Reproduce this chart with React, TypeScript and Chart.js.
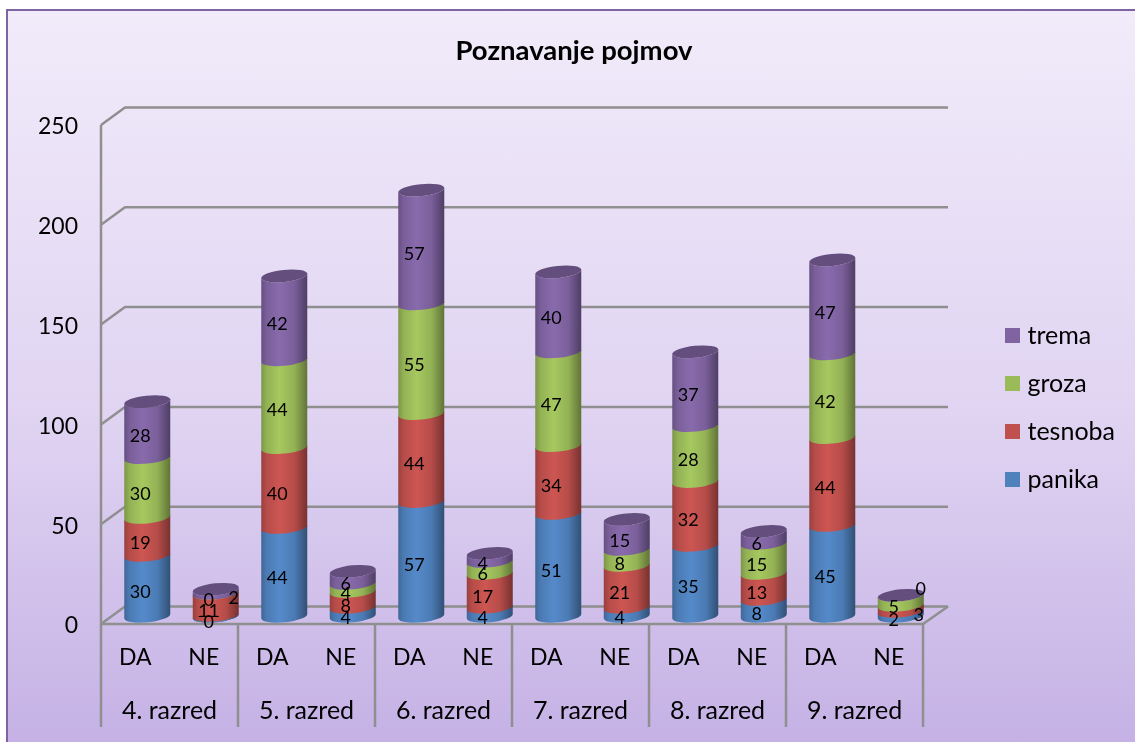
import React, { useEffect, useRef } from "react";
import { Chart, BarController, BarElement, registerables } from "chart.js";

const grades = ["4. razred", "5. razred", "6. razred", "7. razred", "8. razred", "9. razred"];
const answers = ["DA", "NE", "DA", "NE", "DA", "NE", "DA", "NE", "DA", "NE", "DA", "NE"];
const panika = [30, 0, 44, 4, 57, 4, 51, 4, 35, 8, 45, 2];
const tesnoba = [19, 11, 40, 8, 44, 17, 34, 21, 32, 13, 44, 3];
const groza = [30, 0, 44, 4, 55, 6, 47, 8, 28, 15, 42, 5];
const trema = [28, 2, 42, 6, 57, 4, 40, 15, 37, 6, 47, 0];

const BLUE = "#4F81BD";
const RED = "#C0504D";
const GREEN = "#9BBB59";
const PURPLE = "#8064A2";
const GRID = "#8F8F8F";
const FONT = "Lato";

// depth of the 3D box, in pixels
const DEPTH_X = 24;
const DEPTH_Y = 17.5;
const ELLIPSE_RY = 6;
const TILT = -0.1;

// hand-placed data labels, as in the reference: [dataset, index, dx, dy]
const labelNudges: [number, number, number, number][] = [
  [3, 1, 25, 0],
  [1, 11, 25, 0],
  [3, 11, 27, -13],
];
// labels that carry a short rule beneath them in the reference: [dataset, index]
const underlinedLabels: [number, number][] = [[1, 1]];

function shade(hex: string, f: number) {
  const n = parseInt(hex.slice(1), 16);
  const c = [(n >> 16) & 255, (n >> 8) & 255, n & 255].map((v) =>
    Math.min(255, Math.round(v * f))
  );
  return `rgb(${c[0]},${c[1]},${c[2]})`;
}

class CylinderElement extends BarElement {
  static id = "cylinderElement";
  static defaults = { ...(BarElement as any).defaults, bodyColor: "#000000", hasCap: false };
  draw(ctx: CanvasRenderingContext2D) {
    const { x, y, base, width } = (this as any).getProps(["x", "y", "base", "width"], true);
    const o: any = (this as any).options;
    const color: string = o.bodyColor;
    const cx = x + DEPTH_X / 2;
    const half = width / 2;
    const rx = half / Math.cos(TILT);
    const yTop = y - DEPTH_Y / 2;
    const yBase = base - DEPTH_Y / 2;
    ctx.save();
    const g = ctx.createLinearGradient(cx - half, 0, cx + half, 0);
    g.addColorStop(0, shade(color, 0.8));
    g.addColorStop(0.12, shade(color, 0.95));
    g.addColorStop(0.4, shade(color, 1.07));
    g.addColorStop(0.72, shade(color, 0.95));
    g.addColorStop(1, shade(color, 0.62));
    ctx.fillStyle = g;
    ctx.beginPath();
    ctx.ellipse(cx, yTop, rx, ELLIPSE_RY, TILT, Math.PI, 0, true);
    ctx.ellipse(cx, yBase + 1, rx, ELLIPSE_RY, TILT, 0, Math.PI, false);
    ctx.closePath();
    ctx.fill();
    if (o.hasCap) {
      ctx.fillStyle = shade(color, 0.78);
      ctx.beginPath();
      ctx.ellipse(cx, yTop, rx, ELLIPSE_RY, TILT, 0, Math.PI * 2);
      ctx.fill();
    }
    ctx.restore();
  }
}

class CylinderController extends BarController {
  static id = "cylinder";
  static defaults = { ...(BarController as any).defaults, dataElementType: "cylinderElement" };
}

Chart.register(...registerables, CylinderElement as any, CylinderController as any);

const box3d = {
  id: "box3d",
  beforeDatasetsDraw(chart: any) {
    const { ctx, chartArea: a, scales } = chart;
    ctx.save();
    ctx.strokeStyle = GRID;
    ctx.lineWidth = 2.5;
    ctx.lineJoin = "round";
    for (const t of scales.y.ticks) {
      const py = scales.y.getPixelForValue(t.value);
      ctx.beginPath();
      ctx.moveTo(a.left, py);
      ctx.lineTo(a.left + DEPTH_X, py - DEPTH_Y);
      ctx.lineTo(a.right + DEPTH_X + 1, py - DEPTH_Y);
      ctx.stroke();
    }
    ctx.beginPath();
    ctx.moveTo(a.left, a.top);
    ctx.lineTo(a.left, a.bottom);
    ctx.lineTo(a.right, a.bottom);
    ctx.lineTo(a.right + DEPTH_X + 1, a.bottom - DEPTH_Y);
    ctx.stroke();
    const bottom = scales.x2.bottom;
    grades.forEach((_, i) => {
      const left = scales.x2.getPixelForValue(i) - scales.x2.getPixelForValue(0) + a.left;
      ctx.beginPath();
      ctx.moveTo(left, a.bottom);
      ctx.lineTo(left, bottom);
      ctx.stroke();
    });
    ctx.beginPath();
    ctx.moveTo(a.right, a.bottom);
    ctx.lineTo(a.right, bottom);
    ctx.stroke();
    ctx.restore();
  },
};

const barValueLabels = {
  id: "barValueLabels",
  afterDatasetsDraw(chart: any) {
    const { ctx } = chart;
    ctx.save();
    ctx.fillStyle = "#000";
    ctx.strokeStyle = "#000";
    ctx.lineWidth = 1;
    ctx.font = `18px ${FONT}`;
    ctx.textAlign = "center";
    ctx.textBaseline = "middle";
    chart.data.datasets.forEach((ds: any, di: number) => {
      chart.getDatasetMeta(di).data.forEach((el: any, i: number) => {
        const n = labelNudges.find((k) => k[0] === di && k[1] === i);
        const px = el.x + 5 + (n ? n[2] : 0);
        const py = (el.y + el.base) / 2 - 2 + (n ? n[3] : 0);
        ctx.fillText(String(ds.data[i]), px, py);
        if (underlinedLabels.some((k) => k[0] === di && k[1] === i)) {
          ctx.beginPath();
          ctx.moveTo(px - 10, py + 5.5);
          ctx.lineTo(px + 10, py + 5.5);
          ctx.stroke();
        }
      });
    });
    ctx.restore();
  },
};

const placeLegend = {
  id: "placeLegend",
  afterLayout(chart: any) {
    const l = chart.legend;
    const h = l.bottom - l.top;
    l.left = 987;
    l.right = l.left + l.width;
    l.top = 300;
    l.bottom = l.top + h;
    chart.titleBlock.left = 13;
    chart.titleBlock.right = 1135;
  },
};

export default function App() {
  const ref = useRef<HTMLCanvasElement>(null);
  useEffect(() => {
    const chart = new Chart(ref.current as HTMLCanvasElement, {
      type: "cylinder" as any,
      data: {
        labels: answers,
        datasets: [
          { label: "panika", data: panika, backgroundColor: BLUE, bodyColor: BLUE, hasCap: false, clip: false },
          { label: "tesnoba", data: tesnoba, backgroundColor: RED, bodyColor: RED, hasCap: false, clip: false },
          { label: "groza", data: groza, backgroundColor: GREEN, bodyColor: GREEN, hasCap: false, clip: false },
          { label: "trema", data: trema, backgroundColor: PURPLE, bodyColor: PURPLE, hasCap: true, clip: false },
        ] as any,
      },
      options: {
        animation: false,
        responsive: false,
        maintainAspectRatio: false,
        color: "#000",
        font: { family: FONT },
        barThickness: 46,
        layout: { padding: { left: 13, top: 10, right: 74, bottom: 15 } },
        plugins: {
          title: {
            display: true,
            text: "Poznavanje pojmov",
            color: "#000",
            font: { family: FONT, size: 27.5, weight: "bold" },
            padding: { top: 24.5, bottom: 57.5 },
          },
          tooltip: { enabled: false },
          legend: {
            position: "right",
            reverse: true,
            align: "start",
            labels: {
              color: "#000",
              font: { family: FONT, size: 25 },
              boxWidth: 5,
              boxHeight: 5,
              padding: 23,
              generateLabels: (c: any) =>
                c.data.datasets.map((d: any, i: number) => ({
                  text: d.label,
                  fillStyle: d.bodyColor,
                  strokeStyle: d.bodyColor,
                  lineWidth: 10,
                  datasetIndex: i,
                  fontColor: "#000",
                })),
            },
          },
        },
        scales: {
          y: {
            stacked: true,
            min: 0,
            max: 250,
            grid: { display: false },
            border: { display: false },
            ticks: { stepSize: 50, color: "#000", padding: 15, labelOffset: 2, font: { family: FONT, size: 23 } },
            afterFit: (s: any) => { s.width = 88; },
          },
          x: {
            stacked: true,
            weight: 0,
            grid: { display: false },
            border: { display: false },
            ticks: { autoSkip: false, maxRotation: 0, color: "#000", padding: 12, font: { family: FONT, size: 23 } },
            afterFit: (s: any) => { s.height = 56; },
          },
          x2: {
            type: "category",
            labels: grades,
            position: "bottom",
            offset: true,
            weight: 1,
            grid: { display: false },
            border: { display: false },
            ticks: { autoSkip: false, maxRotation: 0, color: "#000", padding: 8, font: { family: FONT, size: 25 } },
            afterFit: (s: any) => { s.height = 47; },
          },
        },
      } as any,
      plugins: [box3d, barValueLabels, placeLegend],
    });
    return () => chart.destroy();
  }, []);
  return (
    <div style={{ position: "fixed", left: 0, top: 0, width: 1135, height: 742, overflow: "hidden", background: "#fff" }}>
      <div
        style={{
          position: "absolute",
          left: 6,
          top: 9,
          right: -4,
          bottom: -4,
          boxSizing: "border-box",
          border: "2px solid #8064A2",
          background: "linear-gradient(#F1EBFA 0%, #E0D4F2 55%, #C5B1E5 100%)",
        }}
      />
      <canvas ref={ref} width={1135} height={742} style={{ position: "absolute", left: 0, top: 0, display: "block" }} />
    </div>
  );
}
